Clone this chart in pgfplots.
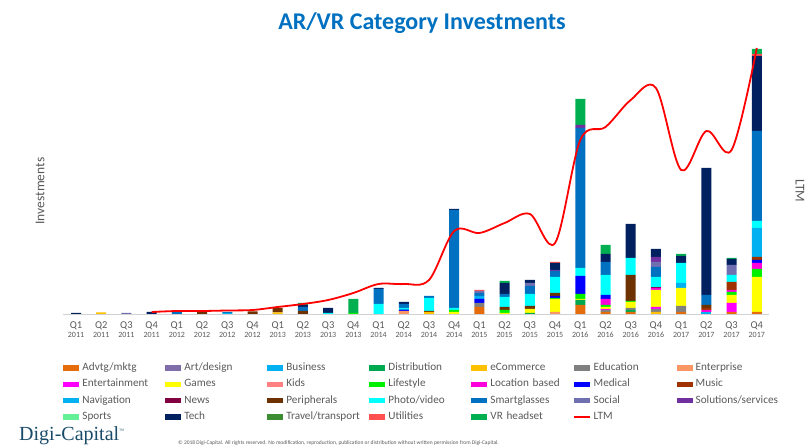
\documentclass[border=0pt]{standalone}
\usepackage{pgfplots}
\pgfplotsset{compat=1.18}
\usepackage{pgfplotstable}
\usepackage{fontspec}
\setmainfont{Carlito}
\newfontfamily\logofont{Liberation Serif}

\definecolor{cAdv}{RGB}{228,108,10}
\definecolor{cArt}{RGB}{128,110,170}
\definecolor{cBus}{RGB}{0,176,240}
\definecolor{cDist}{RGB}{0,168,80}
\definecolor{cEcom}{RGB}{255,192,0}
\definecolor{cEdu}{RGB}{128,128,128}
\definecolor{cEnt}{RGB}{250,150,100}
\definecolor{cEntm}{RGB}{255,0,255}
\definecolor{cGame}{RGB}{255,255,0}
\definecolor{cKids}{RGB}{255,128,128}
\definecolor{cLife}{RGB}{0,240,0}
\definecolor{cLoc}{RGB}{255,0,220}
\definecolor{cMed}{RGB}{0,0,255}
\definecolor{cMus}{RGB}{160,50,0}
\definecolor{cNav}{RGB}{0,176,240}
\definecolor{cNews}{RGB}{128,0,64}
\definecolor{cPer}{RGB}{110,50,0}
\definecolor{cPho}{RGB}{0,255,255}
\definecolor{cSg}{RGB}{0,112,192}
\definecolor{cSoc}{RGB}{112,112,176}
\definecolor{cSol}{RGB}{112,48,160}
\definecolor{cSpo}{RGB}{100,240,150}
\definecolor{cTech}{RGB}{0,32,96}
\definecolor{cTrav}{RGB}{60,140,50}
\definecolor{cUtil}{RGB}{255,80,80}
\definecolor{cVR}{RGB}{0,176,80}
\definecolor{titleblue}{RGB}{0,112,192}
\definecolor{txtgray}{RGB}{89,89,89}
\definecolor{logoteal}{RGB}{25,75,105}

\pgfplotsset{sw/.style={fill=#1, draw=none,
  legend image code/.code={\fill[#1] (0pt,-2.6pt) rectangle (16pt,2.6pt);}}}

\newcommand\ql[2]{Q#1\\[-3pt]{\fontsize{8}{9}\selectfont #2}}

% values in chart units (quarters 0 = Q1 2011 ... 27 = Q4 2017)
\pgfplotstableread{
i Adv Art Bus Dist Ecom Edu Ent Entm Game Kids Life Loc Med Mus Nav News Per Pho Sg Soc Sol Spo Tech Trav Util VR
0  0 0 0 0 0    0 0 0 0 0    0 0 0 0 0    0 0 0 0 0      0 0 1.2 0 0  0
1  0 0 0 0 1.5  0 0 0 0 0    0 0 0 0 0    0 0 0 0 0      0 0 0 0 0    0
2  0 0 0 0 0    0 0 0 0 0    0 0 0 0 0    0 0 0 0 1.2    0 0 0 0 0    0
3  0 0 0 0 0    0 0 0 0 0    0 0 0 0 0    0 0 0 0 0      0 0 2 0 0    0
4  0 0 0 0 0    0 0 0 0 0    0 0 0 0 0    0 0 0 3.5 0    0 0 0 0 0    0
5  0 0 0 0 0    0 0 0 0 0    0 0 0 0 0    0 2.5 0 0 0    0 0 0 0 0    0
6  0 0 0 0 0    0 0 0 0 0    0 0 0 0 1    0 0 0 1 0      0 0 0 0 0    0
7  0 0 0 0 0    0 0 0 0 0    0 0 0 0 0    0 2.5 0 0 0    0 0 0 0 0    0
8  0 0 0 0 1.5  0 0 0 0 0    0 0 0 0 0    0 4.5 0 0 0    0 0 0 0 0    0
9  0 0 0 0 0    0 0 0 0 0    0 0 0 0 0    0 3 0 4 0      0 0 2 0 0    2
10 0 0 0 0 0    0 0 0 0 0    0 0 0 0 0    0 0 1 0 0      0 0 5 0 0    0
11 0 0 0 0 0    0 0 0 0 0    1 0 0 0 0    0 0 0 0 0      0 0 0 0 0    14
12 0 0 0 0 0    0 0 0 0 0    0 0 0 0 0    0 0 10 15 0    0 0 1 0 0    0
13 0 0 0 0 0    0 3 0 0 0    0 0 1 0 1    0 0 1 4 0      0 0 2 0 0    0
14 0 0 0 0 2    0 0 0 0 0    0 0 0 0 0    0 1 13 2 0     0 0 0 0 0    0
15 0 0 0 0 0    0 0 0 2 0    2 0 0 0 0    0 0 2 98 0     0 0 1 0 0    0
16 7 0 0 0 0    4 0 0 0 0    0 0 4 0 3    0 0 0 3 2      0 0 0 0 1    0
17 0 0 0 0 0    0 0 0 1 0    3 0 0 0 0    0 3 10 3 0     0 0 11 0 0   2
18 0 0 0 1 0    0 0 0 4 0    0 0 0 0 0    0 3 12 8 3     0 0 3 0 0    0
19 0 0 0 0 0    0 2 0 13 0   1 0 2 0 0    0 3 16 6 0     1 0 7 0 1    0
20 9 0 0 5 0    0 0 0 1 0    5 0 18 0 0   0 0 8 140 0    3 0 0 0 0    26
21 2 0 0 0 0    2 0 1 2 0    2 6 4 0 0    0 0 20 13 0    0 0 8 0 0    9
22 2 0 0 2 0    2 0 0 6 0    1 0 0 0 0    0 26 17 0 0    0 0 34 0 0   0
23 0 0 0 0 2    3 0 2 17 0   0 2 0 0 0    1 0 10 10 5    5 0 8 0 0    0
24 2 0 0 0 0    6 0 0 18 0   0 0 0 0 5    0 0 20 0 0     0 0 7 0 0    2
25 0 0 2 0 0    0 0 0 0 0    0 2 0 2 0    0 3 0 10 0     0 0 127 0 0  0
26 2 0 0 0 0    0 0 9 8 0    3 2 0 8 0    0 0 7 0 10     0 0 6 0 0    1
27 2 0 0 0 0    0 0 0 35 0   8 6 3 3 29   0 0 7 90 0     0 0 75 0 2   5
}\data

\pgfplotstableread{
i LTM
3 2
4 3
5 3
6 3.5
7 4
8 7
9 10
10 14
11 21
12 30
13 30
14 34
15 83
16 81
17 91
18 100
19 71
20 174
21 187
22 214
23 226
24 144
25 183
26 164
27 266
}\ltm

\begin{document}
\begin{tikzpicture}
\path[use as bounding box] (0,0) rectangle (808pt,446pt);

\begin{axis}[
  at={(63.4pt,132pt)}, anchor=south west,
  scale only axis, width=706pt, height=270pt,
  xmin=-0.5, xmax=27.5, ymin=0, ymax=270,
  enlargelimits=false,
  ybar stacked, bar width=10pt,
  axis y line=none, axis x line*=bottom,
  x axis line style={-, draw=black!18, line width=0.8pt},
  xtick={0,...,27}, major tick length=0pt,
  xticklabels={\ql{1}{2011},\ql{2}{2011},\ql{3}{2011},\ql{4}{2011},
    \ql{1}{2012},\ql{2}{2012},\ql{3}{2012},\ql{4}{2012},
    \ql{1}{2013},\ql{2}{2013},\ql{3}{2013},\ql{4}{2013},
    \ql{1}{2014},\ql{2}{2014},\ql{3}{2014},\ql{4}{2014},
    \ql{1}{2015},\ql{2}{2015},\ql{3}{2015},\ql{4}{2015},
    \ql{1}{2016},\ql{2}{2016},\ql{3}{2016},\ql{4}{2016},
    \ql{1}{2017},\ql{2}{2017},\ql{3}{2017},\ql{4}{2017}},
  xticklabel style={font=\fontsize{10.5}{12}\selectfont, align=center, text=txtgray, inner sep=0pt, yshift=-7.5pt},
  clip=false,
  legend columns=7,
  legend cell align=left,
  legend style={at={(axis description cs:0,-0.1815)}, anchor=north west,
    draw=none, fill=none, inner sep=0pt, outer sep=0pt,
    font=\fontsize{11.2}{12}\selectfont, text=txtgray,
    /tikz/column sep=0pt, /tikz/row sep=6.3pt,
    /tikz/every odd column/.append style={column sep=3pt},
    /tikz/every even column/.append style={column sep=3pt},
    nodes={inner sep=0pt, text width=80pt, align=left, text height=7.5pt, text depth=2.5pt}},
]
\addplot[sw=cAdv]  table[x=i,y=Adv]{\data};  \addlegendentry{Advtg/mktg}
\addplot[sw=cArt]  table[x=i,y=Art]{\data};  \addlegendentry{Art/design}
\addplot[sw=cBus]  table[x=i,y=Bus]{\data};  \addlegendentry{Business}
\addplot[sw=cDist] table[x=i,y=Dist]{\data}; \addlegendentry{Distribution}
\addplot[sw=cEcom] table[x=i,y=Ecom]{\data}; \addlegendentry{eCommerce}
\addplot[sw=cEdu]  table[x=i,y=Edu]{\data};  \addlegendentry{Education}
\addplot[sw=cEnt]  table[x=i,y=Ent]{\data};  \addlegendentry{Enterprise}
\addplot[sw=cEntm] table[x=i,y=Entm]{\data}; \addlegendentry{Entertainment}
\addplot[sw=cGame] table[x=i,y=Game]{\data}; \addlegendentry{Games}
\addplot[sw=cKids] table[x=i,y=Kids]{\data}; \addlegendentry{Kids}
\addplot[sw=cLife] table[x=i,y=Life]{\data}; \addlegendentry{Lifestyle}
\addplot[sw=cLoc]  table[x=i,y=Loc]{\data};  \addlegendentry{Location based}
\addplot[sw=cMed]  table[x=i,y=Med]{\data};  \addlegendentry{Medical}
\addplot[sw=cMus]  table[x=i,y=Mus]{\data};  \addlegendentry{Music}
\addplot[sw=cNav]  table[x=i,y=Nav]{\data};  \addlegendentry{Navigation}
\addplot[sw=cNews] table[x=i,y=News]{\data}; \addlegendentry{News}
\addplot[sw=cPer]  table[x=i,y=Per]{\data};  \addlegendentry{Peripherals}
\addplot[sw=cPho]  table[x=i,y=Pho]{\data};  \addlegendentry{Photo/video}
\addplot[sw=cSg]   table[x=i,y=Sg]{\data};   \addlegendentry{Smartglasses}
\addplot[sw=cSoc]  table[x=i,y=Soc]{\data};  \addlegendentry{Social}
\addplot[sw=cSol]  table[x=i,y=Sol]{\data};  \addlegendentry{Solutions/services}
\addplot[sw=cSpo]  table[x=i,y=Spo]{\data};  \addlegendentry{Sports}
\addplot[sw=cTech] table[x=i,y=Tech]{\data}; \addlegendentry{Tech}
\addplot[sw=cTrav] table[x=i,y=Trav]{\data}; \addlegendentry{Travel/transport}
\addplot[sw=cUtil] table[x=i,y=Util]{\data}; \addlegendentry{Utilities}
\addplot[sw=cVR]   table[x=i,y=VR]{\data};   \addlegendentry{VR headset}
\addlegendimage{red, line width=1.3pt, legend image code/.code={\draw[red, line width=1.3pt] (0pt,0pt) -- (16pt,0pt);}}
\addlegendentry{LTM}
\end{axis}

\begin{axis}[
  at={(63.4pt,132pt)}, anchor=south west,
  scale only axis, width=706pt, height=270pt,
  xmin=-0.5, xmax=27.5, ymin=0, ymax=270,
  enlargelimits=false, hide axis, clip=false,
]
\addplot[red, line width=1.8pt, smooth, tension=0.55, mark=none] table[x=i,y=LTM]{\ltm};
\end{axis}

\node[font=\bfseries\fontsize{24}{28}\selectfont, text=titleblue] at (422pt,423pt) {AR/VR Category Investments};
\node[rotate=90, font=\fontsize{13.5}{15}\selectfont, text=txtgray] at (40pt,255pt) {Investments};
\node[rotate=-90, font=\fontsize{13.5}{15}\selectfont, text=txtgray] at (800pt,255pt) {LTM};
\node[anchor=base west, inner sep=0pt, font=\logofont\fontsize{20}{22}\selectfont, text=logoteal] at (19pt,5.3pt) {Digi-Capital\raisebox{8pt}{\fontsize{5}{6}\selectfont\texttrademark}};
\node[anchor=base west, inner sep=0pt, font=\fontsize{5.5}{6}\selectfont, text=txtgray] at (178pt,1.5pt) {© 2018 Digi-Capital. All rights reserved. No modification, reproduction, publication or distribution without written permission from Digi-Capital.};
\end{tikzpicture}
\end{document}
